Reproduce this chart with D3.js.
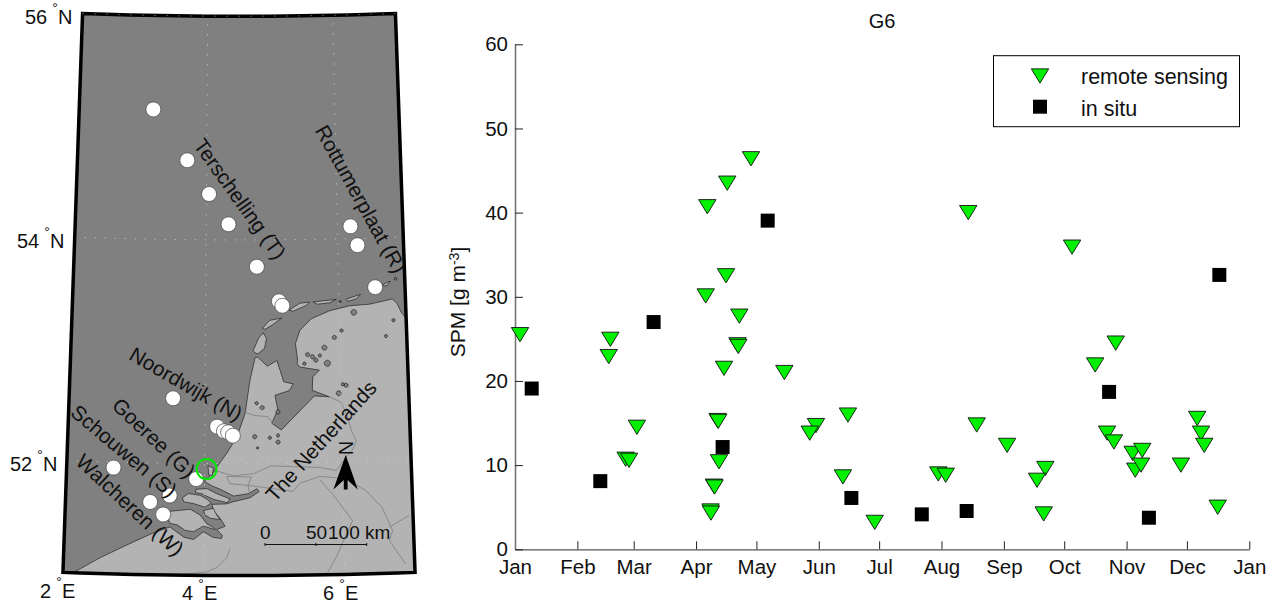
<!DOCTYPE html>
<html>
<head>
<meta charset="utf-8">
<title>G6 SPM</title>
<script src="https://cdn.jsdelivr.net/npm/d3@7"></script>
<style>
    html, body { margin: 0; padding: 0; background: #fff; }
    svg { display: block; font-family: "Liberation Sans", Arial, sans-serif; fill: #111; }
</style>
</head>
<body>
<svg id="fig" width="1276" height="604"></svg>
<script>
// ——— Time series: day of year and SPM [g m-3] ———
const remoteDays = [2.5, 47.4, 46.6, 60.6, 55, 56.7, 97.2, 97.4, 98.9, 99.2, 101.4, 100.7, 101, 103.9, 110.6, 111,
    111.5, 104.9, 94.8, 95.6, 105.5, 117.3, 133.9, 149.6, 146.5, 165.5, 163, 178.8, 210.4, 214.1, 229.5, 244.6,
    263.6, 259.5, 262.8, 288.4, 298.6, 294.3, 297.7, 307, 311.8, 308.3, 311.2, 331, 339.1, 341, 342.6, 349.3,
    276.9, 225.3];
const remoteSpm = [25.5, 24.95, 22.9, 14.5, 10.7, 10.57, 4.55, 4.3, 7.5, 7.4, 10.4, 15.3, 15.2, 21.5, 24.3, 24.1,
    27.7, 32.5, 30.1, 40.7, 43.5, 46.4, 21, 14.7, 13.8, 15.95, 8.6, 3.2, 8.95, 8.8, 14.77, 12.35,
    9.6, 8.2, 4.2, 21.9, 24.5, 13.8, 12.75, 11.4, 11.75, 9.4, 10, 10, 15.55, 13.8, 12.35, 5,
    35.9, 40];
const insituDays = [8.3, 42.4, 68.9, 103.2, 167.2, 125.6, 202.2, 224.5, 295.3, 315.1, 350.1];
const insituSpm = [19.1, 8.1, 27, 12.15, 6.1, 39.05, 4.15, 4.55, 18.7, 3.75, 32.6];
const yTicks = [0, 10, 20, 30, 40, 50, 60];
const legendLabels = ['remote sensing', 'in situ'];

// ——— Map: stations and coast in lon/lat ———
const stations = [[3.16, 55.16], [3.70, 54.71], [4.04, 54.41], [4.34, 54.14], [4.77, 53.76], [6.20, 54.11], [6.30, 53.94],
    [6.55, 53.56], [5.10, 53.45], [5.15, 53.41], [3.53, 52.58], [4.18, 52.33], [4.28, 52.29], [4.34, 52.28], [4.41, 52.25],
    [2.68, 51.95], [3.88, 51.86], [3.22, 51.65], [3.50, 51.71], [3.41, 51.54]];
const g6Station = [4.03, 51.95];
const seaOutline = [[1.8, 50.9], [2.14, 51.0], [2.25, 51.04], [2.53, 51.145], [2.99, 51.29], [3.26, 51.37], [3.51, 51.43],
    [3.71, 51.34], [3.85, 51.32], [3.99, 51.39], [4.13, 51.34], [4.25, 51.33], [4.26, 51.36], [4.18, 51.41], [4.30, 51.44],
    [4.23, 51.51], [4.13, 51.58], [4.11, 51.635], [4.32, 51.64], [4.42, 51.66], [4.66, 51.695], [4.79, 51.75], [4.76, 51.775],
    [4.63, 51.73], [4.42, 51.71], [4.23, 51.77], [4.11, 51.80], [4.0, 51.84], [4.13, 51.92], [4.18, 51.97], [4.33, 52.10], [4.47, 52.24],
    [4.59, 52.45], [4.66, 52.74], [4.74, 52.95], [4.78, 52.95], [4.92, 52.87], [5.06, 52.92], [5.11, 52.83], [5.16, 52.73],
    [5.30, 52.71], [5.24, 52.65], [5.03, 52.61], [5.07, 52.48], [4.98, 52.36], [5.12, 52.30], [5.61, 52.60], [5.83, 52.59],
    [5.58, 52.65], [5.59, 52.77], [5.69, 52.83], [5.40, 52.86], [5.36, 52.89], [5.37, 52.92], [5.34, 53.07], [5.41, 53.19],
    [5.58, 53.29], [5.86, 53.36], [6.16, 53.40], [6.46, 53.41], [6.80, 53.45], [6.87, 53.41], [6.93, 53.33], [7.0, 53.27],
    [7.3, 53.27], [7.3, 56.3], [1.8, 56.3], [1.8, 50.9]];
const islands = [
    [[3.68, 51.69], [3.77, 51.73], [3.94, 51.715], [4.04, 51.68], [4.10, 51.645], [4.01, 51.61], [3.85, 51.64], [3.71, 51.655], [3.68, 51.69]],
    [[3.99, 51.58], [4.13, 51.60], [4.18, 51.54], [4.23, 51.50], [4.09, 51.51], [4.01, 51.54], [3.99, 51.58]],
    [[3.51, 51.57], [3.66, 51.58], [3.80, 51.59], [3.94, 51.54], [4.04, 51.46], [4.13, 51.43], [4.16, 51.41], [3.99, 51.44],
        [3.85, 51.39], [3.73, 51.40], [3.61, 51.45], [3.51, 51.46], [3.47, 51.52], [3.51, 51.57]],
    [[3.88, 51.77], [4.04, 51.775], [4.18, 51.73], [4.37, 51.685], [4.33, 51.65], [4.13, 51.68], [3.96, 51.73], [3.87, 51.74], [3.88, 51.77]],
    [[4.05, 51.98], [4.13, 51.96], [4.11, 51.89], [4.06, 51.90], [4.05, 51.98]],
    [[4.74, 52.99], [4.71, 53.01], [4.79, 53.12], [4.86, 53.17], [4.91, 53.12], [4.88, 53.03], [4.78, 52.98], [4.74, 52.99]],
    [[4.85, 53.21], [4.96, 53.28], [5.14, 53.30], [5.0, 53.24], [4.89, 53.20], [4.85, 53.21]],
    [[5.25, 53.37], [5.41, 53.43], [5.56, 53.44], [5.51, 53.41], [5.31, 53.36], [5.25, 53.37]],
    [[5.61, 53.44], [5.78, 53.45], [5.96, 53.46], [5.86, 53.43], [5.68, 53.42], [5.61, 53.44]],
    [[6.11, 53.46], [6.33, 53.50], [6.26, 53.46], [6.13, 53.44], [6.11, 53.46]],
    [[6.66, 53.58], [6.78, 53.61], [6.73, 53.57], [6.67, 53.57], [6.66, 53.58]]
];
// lon, lat, radius in degrees of arc
const lakes = [[5.52, 52.97, .018], [5.59, 52.95, .018], [5.64, 52.92, .018], [5.70, 52.96, .014], [5.77, 53.03, .022],
    [5.81, 52.89, .027], [5.47, 52.89, .014], [6.03, 53.18, .014], [5.92, 53.12, .018], [6.69, 53.12, .014], [6.81, 53.26, .014],
    [6.08, 52.69, .018], [5.97, 52.62, .022], [6.03, 52.70, .014], [4.76, 52.54, .014], [4.84, 52.50, .018], [4.73, 52.24, .018],
    [4.95, 52.23, .014], [5.07, 52.25, .014], [5.07, 52.19, .018], [4.77, 52.14, .01], [5.07, 52.46, .018], [6.02, 53.44, .008],
    [6.86, 53.63, .012], [6.22, 53.34, .025]];
const rivers = [
    [[4.59, 52.46], [4.73, 52.43], [4.92, 52.42], [5.0, 52.36]],
    [[5.83, 52.59], [6.0, 52.54], [6.09, 52.41], [6.14, 52.29], [6.21, 52.19], [6.16, 52.12], [5.91, 51.93], [5.67, 51.96],
        [5.28, 51.97], [4.97, 51.98], [4.71, 51.91], [4.42, 51.89], [4.15, 51.94]],
    [[4.32, 51.885], [4.37, 51.82], [4.63, 51.805], [5.28, 51.75], [5.38, 51.82], [5.67, 51.88], [6.05, 51.855], [6.33, 51.745],
        [6.56, 51.59], [6.70, 51.38], [6.65, 51.29], [6.87, 51.08]],
    [[5.67, 51.85], [5.85, 51.72], [5.99, 51.60], [6.13, 51.48], [5.89, 51.16], [5.76, 51.02]],
    [[4.37, 51.24], [4.33, 51.16], [4.18, 51.07], [4.04, 51.03], [3.62, 51.0]],
    [[6.65, 51.41], [6.94, 51.51]],
    [[4.32, 51.885], [4.68, 51.88], [4.63, 51.805], [4.66, 51.72]]
];
const latLabels = ['56', '54', '52'];
const lonLabels = ['2', '4', '6'];
const siteNames = ['Terschelling (T)', 'Rottumerplaat (R)', 'Noordwijk (N)', 'Goeree (G)', 'Schouwen (S)', 'Walcheren (W)', 'The Netherlands'];
const scaleLabels = ['0', '50', '100 km'];

const svg = d3.select('#fig');

// ——— Map panel ———
const mapFont = 20.8;
const outline = d3.geoGraticule().extent([[2, 51], [7, 56]]).precision(0.25).outline();
const projection = d3.geoConicConformal()
    .parallels([51, 56])
    .rotate([-4.5, 0])
    .fitExtent([[62, 13.5], [416, 575.5]], outline);
const geo = d3.geoPath(projection);
const line = coords => geo({ type: 'LineString', coordinates: coords });

svg.append('clipPath').attr('id', 'mapClip').append('path').attr('d', geo(outline));

const map = svg.append('g').attr('clip-path', 'url(#mapClip)');
map.append('path').attr('d', geo(outline)).attr('fill', '#b3b3b3');
map.append('path').attr('d', line(seaOutline)).attr('fill', '#808080').attr('stroke', '#222').attr('stroke-width', 0.7);

map.selectAll('.lake').data(lakes).join('path')
    .attr('class', 'lake')
    .attr('d', d => geo(d3.geoCircle().center([d[0], d[1]]).radius(d[2])()))
    .attr('fill', '#808080').attr('stroke', '#222').attr('stroke-width', 0.6);
map.selectAll('.river').data(rivers).join('path')
    .attr('class', 'river')
    .attr('d', line).attr('fill', 'none').attr('stroke', '#858585').attr('stroke-width', 0.9);
map.selectAll('.island').data(islands).join('path')
    .attr('class', 'island')
    .attr('d', line).attr('fill', '#b3b3b3').attr('stroke', '#222').attr('stroke-width', 0.7);

// Dotted meridians and parallels
map.selectAll('.grid')
    .data(d3.geoGraticule().extent([[2, 51], [7, 56]]).step([2, 2]).precision(0.25).lines())
    .join('path')
    .attr('class', 'grid')
    .attr('d', geo).attr('fill', 'none')
    .attr('stroke', '#d0d0d0').attr('stroke-width', 1).attr('stroke-dasharray', '1 9');

map.selectAll('.station').data(stations).join('circle')
    .attr('class', 'station')
    .attr('cx', d => projection(d)[0]).attr('cy', d => projection(d)[1])
    .attr('r', 7.5).attr('fill', '#fff').attr('stroke', '#444').attr('stroke-width', 0.7);
map.append('circle')
    .attr('cx', projection(g6Station)[0]).attr('cy', projection(g6Station)[1])
    .attr('r', 10).attr('fill', 'none').attr('stroke', '#00e800').attr('stroke-width', 2);

svg.append('path').attr('d', geo(outline)).attr('fill', 'none').attr('stroke', '#000').attr('stroke-width', 3.5);
svg.append('path').attr('d', line(d3.range(2, 7.1, 0.25).map(lon => [lon, 56])))
    .attr('fill', 'none').attr('stroke', '#999').attr('stroke-width', 1).attr('stroke-dasharray', '1 11');

// Site names, rotated along the transects
const sitePlace = [[240, 199, 54.5], [361, 199, 61], [186, 384, 30], [154, 438, 43.5], [124, 451, 40], [130, 505, 43], [321, 441, -48]];
svg.selectAll('.site').data(siteNames).join('text')
    .attr('class', 'site')
    .attr('transform', (d, i) => `translate(${sitePlace[i][0]},${sitePlace[i][1]}) rotate(${sitePlace[i][2]})`)
    .attr('text-anchor', 'middle').attr('dy', '.35em')
    .attr('font-size', mapFont)
    .text(d => d);

// Graticule labels: number, small degree sign, hemisphere
function gridLabel(num, suffix, x, y) {
    const wide = num.length > 1 ? 30 : 19;
    svg.append('text').attr('x', x).attr('y', y).attr('dy', '.35em').attr('font-size', 20).text(num);
    svg.append('text').attr('x', x + wide).attr('y', y - 4).attr('text-anchor', 'middle').attr('font-size', 14).text('°');
    svg.append('text').attr('x', x + wide + 3).attr('y', y).attr('dy', '.35em').attr('font-size', 20).text(suffix);
}
[[25, 17], [17, 241], [10, 464]].forEach((p, i) => gridLabel(latLabels[i], 'N', p[0], p[1]));
[[40, 591], [182, 593], [323, 593]].forEach((p, i) => gridLabel(lonLabels[i], 'E', p[0], p[1]));

// Scale bar
const bar = d3.scaleLinear().domain([0, 100]).range([265, 366.7]);
svg.append('line').attr('x1', bar(0)).attr('x2', bar(100)).attr('y1', 544.5).attr('y2', 544.5).attr('stroke', '#111').attr('stroke-width', 1);
svg.selectAll('.bartick').data([0, 50, 100]).join('line')
    .attr('class', 'bartick')
    .attr('x1', d => bar(d)).attr('x2', d => bar(d)).attr('y1', 543).attr('y2', 546).attr('stroke', '#111');
svg.selectAll('.barlabel').data(scaleLabels).join('text')
    .attr('class', 'barlabel')
    .attr('x', (d, i) => [260, 306, 328][i]).attr('y', 532).attr('dy', '.35em')
    .attr('font-size', 19)
    .text(d => d);

// North arrow
const arrow = d3.path();
arrow.moveTo(345.7, 455);
arrow.lineTo(357.8, 489.5);
arrow.lineTo(347.6, 480);
arrow.lineTo(347.6, 489.5);
arrow.lineTo(343.8, 489.5);
arrow.lineTo(343.8, 480);
arrow.lineTo(333.4, 489.5);
arrow.closePath();
svg.append('path').attr('d', arrow.toString()).attr('fill', '#000');
svg.append('text').attr('transform', 'translate(345.5,448) rotate(90)')
    .attr('text-anchor', 'middle').attr('dy', '.35em').attr('font-size', 20).text('N');

// ——— Time series panel ———
const x = d3.scaleUtc().domain([new Date(Date.UTC(2001, 0, 1)), new Date(Date.UTC(2002, 0, 1))]).range([515, 1249.3]);
const y = d3.scaleLinear().domain([0, 60]).range([549.3, 44.3]);
const dayToDate = d => new Date(Date.UTC(2001, 0, 1) + d * 864e5);

const xAxis = svg.append('g').attr('transform', 'translate(0,549.3)')
    .call(d3.axisBottom(x).tickValues(d3.utcMonth.range(x.domain()[0], new Date(Date.UTC(2002, 0, 2))))
        .tickFormat(d3.utcFormat('%b')).tickSizeInner(-8).tickSizeOuter(0).tickPadding(10));
const yAxis = svg.append('g').attr('transform', 'translate(515,0)')
    .call(d3.axisLeft(y).tickValues(yTicks).tickSizeInner(-8).tickSizeOuter(0).tickPadding(7));
[xAxis, yAxis].forEach(a => {
    a.attr('font-family', null).attr('font-size', 20.5);
    a.selectAll('text').attr('fill', '#111');
    a.selectAll('line').attr('stroke', '#222').attr('stroke-width', 1);
    a.select('.domain').attr('stroke', '#555').attr('stroke-width', 1.2);
});
yAxis.select('.domain').attr('stroke', '#777').attr('stroke-width', 1.6);

svg.append('text').attr('x', 882).attr('y', 21).attr('dy', '.35em').attr('text-anchor', 'middle').attr('font-size', 20).text('G6');

const yLabel = svg.append('text')
    .attr('transform', 'translate(458,302) rotate(-90)')
    .attr('text-anchor', 'middle').attr('dy', '.35em').attr('font-size', 21);
yLabel.append('tspan').text('SPM [g m');
yLabel.append('tspan').attr('dy', '-.45em').attr('font-size', 14).text('-3');
yLabel.append('tspan').attr('dy', '.32em').text(']');

// Markers
const triangleDown = {
    draw(ctx, size) {
        const w = Math.sqrt(size) * 1.1, h = w * 0.82;
        ctx.moveTo(-w / 2, -h / 2);
        ctx.lineTo(w / 2, -h / 2);
        ctx.lineTo(0, h / 2);
        ctx.closePath();
    }
};
const triPath = d3.symbol().type(triangleDown).size(250)();
const squarePath = d3.symbol().type(d3.symbolSquare).size(196)();

function drawTriangle(sel) {
    sel.attr('d', triPath).attr('fill', '#00f000').attr('stroke', '#111').attr('stroke-width', 0.9);
}
function drawSquare(sel) {
    sel.attr('d', squarePath).attr('fill', '#000');
}

svg.append('g').selectAll('path').data(remoteDays).join('path')
    .attr('transform', (d, i) => `translate(${x(dayToDate(d))},${y(remoteSpm[i])})`)
    .call(drawTriangle);
svg.append('g').selectAll('path').data(insituDays).join('path')
    .attr('transform', (d, i) => `translate(${x(dayToDate(d))},${y(insituSpm[i])})`)
    .call(drawSquare);

// Legend
const legend = svg.append('g');
legend.append('rect').attr('x', 993.5).attr('y', 55.7).attr('width', 246).attr('height', 71)
    .attr('fill', '#fff').attr('stroke', '#000').attr('stroke-width', 1);
legend.append('path').attr('transform', 'translate(1040,76)').call(drawTriangle);
legend.append('path').attr('transform', 'translate(1040,106.7)').call(drawSquare);
legend.selectAll('text').data(legendLabels).join('text')
    .attr('x', 1081).attr('y', (d, i) => [76, 108][i]).attr('dy', '.35em')
    .attr('font-size', 21.5)
    .text(d => d);
</script>
</body>
</html>
